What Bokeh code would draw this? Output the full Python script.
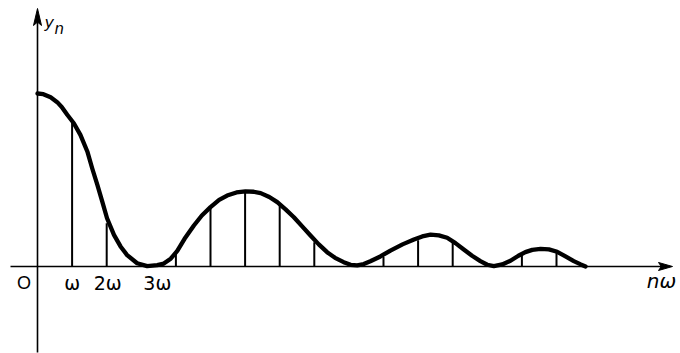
from bokeh.plotting import figure
from bokeh.models import Range1d, ColumnDataSource
from bokeh.core.properties import value
from bokeh.embed import file_html
from bokeh.resources import INLINE

# ---- data (n in units of omega, y normalised to y0 = 1) ----
curve_n = [0.0, 0.17, 0.38, 0.57, 0.70, 0.86, 1.05, 1.24, 1.44, 1.58, 1.73, 1.87,
           2.01, 2.21, 2.40, 2.59, 2.88, 3.17, 3.46, 3.65, 3.85, 4.04, 4.25, 4.52,
           4.75, 5.0, 5.25, 5.48, 5.75, 6.01, 6.25, 6.45, 6.7, 6.93, 7.17, 7.41,
           7.65, 7.89, 8.13, 8.37, 8.6, 8.85, 9.05, 9.24, 9.43, 9.62, 9.91, 10.2,
           10.55, 10.88, 11.12, 11.36, 11.6, 11.84, 12.08, 12.32, 12.56, 12.8, 13.0,
           13.19, 13.43, 13.67, 13.9, 14.1, 14.3, 14.54, 14.78, 15.02, 15.26, 15.5,
           15.7, 15.84]
curve_y = [1.0, 0.996, 0.978, 0.95, 0.922, 0.877, 0.828, 0.761, 0.665, 0.568, 0.472, 0.376,
           0.279, 0.183, 0.116, 0.066, 0.019, 0.002, 0.008, 0.017, 0.045, 0.09, 0.16, 0.237,
           0.295, 0.343, 0.385, 0.41, 0.428, 0.434, 0.432, 0.424, 0.402, 0.372, 0.33, 0.285,
           0.232, 0.179, 0.128, 0.083, 0.05, 0.025, 0.01, 0.006, 0.014, 0.03, 0.058, 0.092,
           0.128, 0.156, 0.174, 0.184, 0.18, 0.166, 0.135, 0.098, 0.062, 0.031, 0.01,
           0.002, 0.012, 0.033, 0.062, 0.083, 0.096, 0.102, 0.099, 0.085, 0.058, 0.031,
           0.012, 0.0]

stem_n = [1, 2, 3, 4, 5, 6, 7, 8, 9, 10, 11, 12, 13, 14, 15]
stem_y = [0.834, 0.25, 0.0, 0.08, 0.335, 0.425, 0.365, 0.14, 0.0, 0.055, 0.152,
          0.146, 0.0, 0.064, 0.095]

tick_pos = [1, 2, 3]
tick_labels = ["ω", "2ω", "3ω"]
tick_dx = [0, 1, 16]          # label nudges in pixels

origin_label = "O"
x_label = "nω"
y_label = "y"
y_sub = "n"

# ---- geometry ----
W, H = 680, 353
x0, x1 = -1.0694, 18.584
y0, y1 = -0.5029, 1.5376
sx = W / (x1 - x0)
sy = H / (y1 - y0)

p = figure(width=W, height=H, output_backend="svg", toolbar_location=None,
           x_range=Range1d(x0, x1), y_range=Range1d(y0, y1),
           x_axis_location=None, y_axis_location=None, min_border=0)
p.grid.visible = False
p.outline_line_color = None
p.background_fill_color = "white"
p.border_fill_color = "white"

# axes
ax_left = -27 / sx
ax_tip = x1 - 8 / sx
head_len_x = 14 / sx
head_hw_y = 4 / sy
p.segment(x0=[ax_left], y0=[0], x1=[ax_tip - head_len_x * 0.6], y1=[0],
          line_color="black", line_width=1.6)
p.patch([ax_tip, ax_tip - head_len_x, ax_tip - head_len_x * 0.8, ax_tip - head_len_x],
        [0, head_hw_y, 0, -head_hw_y], color="black")

ay_tip = y1 - 8 / sy
head_len_y = 17 / sy
head_hw_x = 4 / sx
p.segment(x0=[0], y0=[y0 + 1 / sy], x1=[0], y1=[ay_tip - head_len_y * 0.6],
          line_color="black", line_width=1.6)
p.patch([0, head_hw_x, 0, -head_hw_x],
        [ay_tip, ay_tip - head_len_y, ay_tip - head_len_y * 0.8, ay_tip - head_len_y],
        color="black")

# stems
p.segment(x0=stem_n, y0=[0] * len(stem_n), x1=stem_n, y1=stem_y,
          line_color="black", line_width=2)

# envelope curve
p.line(curve_n, curve_y, line_color="black", line_width=4.3, line_join="round",
       line_cap="round")

FONT = value("DejaVu Sans")
lab_y = -17 / sy

tsrc = ColumnDataSource(dict(x=tick_pos, y=[lab_y] * len(tick_pos),
                             t=tick_labels, dx=tick_dx))
p.text(x="x", y="y", text="t", x_offset="dx", source=tsrc, text_font=FONT,
       text_font_size="19px", text_align="center", text_baseline="middle",
       text_color="black")

p.text(x=[-13.5 / sx], y=[lab_y], text=[origin_label], text_font=value("Liberation Sans"),
       text_font_size="18px", text_align="center", text_baseline="middle",
       text_color="black")

p.text(x=[x1 - 19 / sx], y=[-15 / sy], text=[x_label], text_font=FONT,
       text_font_size="20px", text_font_style="italic", text_align="center",
       text_baseline="middle", text_color="black")

p.text(x=[7 / sx], y=[y1 - 22 / sy], text=[y_label], text_font=FONT,
       text_font_size="16px", text_font_style="italic", text_align="left",
       text_baseline="alphabetic", text_color="black")
p.text(x=[17 / sx], y=[y1 - 28 / sy], text=[y_sub], text_font=FONT,
       text_font_size="15px", text_font_style="italic", text_align="left",
       text_baseline="alphabetic", text_color="black")

open("out.html", "w").write(file_html(p, INLINE))
